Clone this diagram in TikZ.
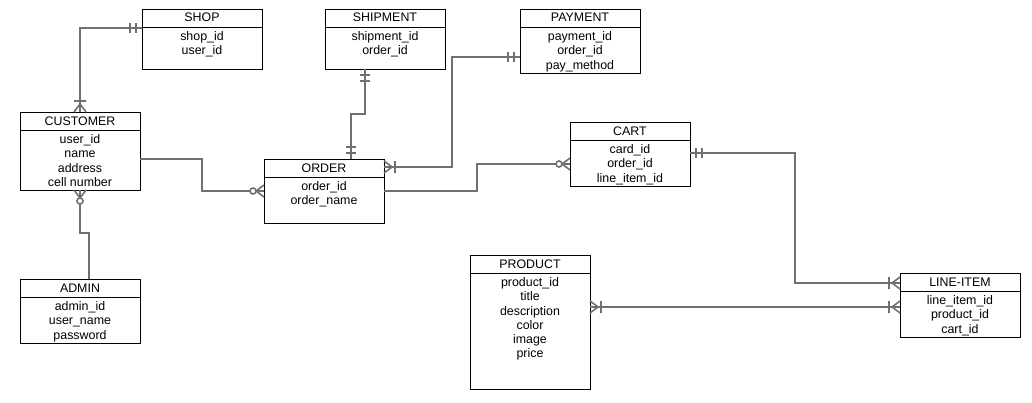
\documentclass[tikz,border=0pt]{standalone}
\usepackage{fontspec}
\setmainfont{Liberation Sans}
\usetikzlibrary{calc}
\newdimen\upx \upx=0.75pt
\definecolor{relgray}{RGB}{112,112,112}
\tikzset{
  ebox/.style={draw=black, line width=0.6pt, rectangle, inner sep=0pt, outer sep=0pt,
    minimum width=120\upx, anchor=north west},
  hline/.style={draw=black, line width=0.6pt},
  etitle/.style={font=\fontsize{9.3}{10.6}\selectfont, inner sep=0pt, anchor=base},
  etext/.style={font=\fontsize{9.3}{10.6}\selectfont, inner sep=0pt, anchor=north, align=center},
  rel/.style={draw=relgray, line width=1.5pt},
  mk/.style={draw=relgray, line width=1.2pt},
  mand/.pic={\draw[mk] (6,-5)--(6,5) (12,-5)--(12,5);},
  onemany/.pic={\draw[mk] (0,-6)--(8,0)--(0,6) (11,-6)--(11,6);},
  zeromany/.pic={\draw[mk] (0,-6)--(8,0)--(0,6); \draw[mk, fill=white] (11,0) circle[radius=3\upx];},
}
\newcommand\entity[6]{%
  \node[ebox, minimum height=#4\upx] (#1) at (#2,#3) {};
  \draw[hline] ($(#1.north west)+(0,18)$) -- ($(#1.north east)+(0,18)$);
  \node[etitle] (#1-t) at ($(#1.north)+(0,13)$) {#5};
  \node[etext] (#1-a) at ($(#1.north)+(0,22.5)$) {#6};
}
\begin{document}
\begin{tikzpicture}[x=0.75pt,y=-0.75pt]
\useasboundingbox[fill=white] (0,0) rectangle (1032,403);

\entity{shop}{142}{9}{60}{SHOP}{shop\_id\\user\_id}
\entity{ship}{325}{9}{60}{SHIPMENT}{shipment\_id\\order\_id}
\entity{pay}{520}{9}{64}{PAYMENT}{payment\_id\\order\_id\\pay\_method}
\entity{cust}{20}{112}{78}{CUSTOMER}{user\_id\\name\\address\\cell number}
\entity{order}{264}{159}{64}{ORDER}{order\_id\\order\_name}
\entity{cart}{570}{122}{64}{CART}{card\_id\\order\_id\\line\_item\_id}
\entity{admin}{20}{279}{64}{ADMIN}{admin\_id\\user\_name\\password}
\entity{prod}{470}{255}{134}{PRODUCT}{product\_id\\title\\description\\color\\image\\price}
\entity{line}{900}{273}{64}{LINE-ITEM}{line\_item\_id\\product\_id\\cart\_id}

% anchor points
\coordinate (shopL) at ($(shop.north west)+(0,19)$);
\coordinate (custR) at ($(cust.north east)+(0,47)$);
\coordinate (ordL)  at ($(order.north west)+(0,32)$);
\coordinate (adminT) at ($(admin.north)+(9,0)$);
\coordinate (shipB) at ($(ship.south)+(-20,0)$);
\coordinate (ordT)  at ($(order.north)+(27,0)$);
\coordinate (payL)  at ($(pay.north west)+(0,48)$);
\coordinate (ordR1) at ($(order.north east)+(0,8)$);
\coordinate (ordR2) at ($(order.north east)+(0,32)$);
\coordinate (cartL) at ($(cart.north west)+(0,42)$);
\coordinate (cartR) at ($(cart.north east)+(0,31)$);
\coordinate (lineL1) at ($(line.north west)+(0,10)$);
\coordinate (lineL2) at ($(line.north west)+(0,34)$);
\coordinate (prodR) at ($(prod.north east)+(0,52)$);

% connectors
\draw[rel] (shopL) -| (cust.north);
\draw[rel] (custR) -- ++(62,0) |- (ordL);
\draw[rel] (cust.south) -- ++(0,43) -| (adminT);
\draw[rel] (shipB) -- ++(0,45) -| (ordT);
\draw[rel] (payL) -- ++(-68,0) |- (ordR1);
\draw[rel] (ordR2) -- ++(93,0) |- (cartL);
\draw[rel] (cartR) -- ++(105,0) |- (lineL1);
\draw[rel] (prodR) -- (lineL2);

% markers
\pic[rotate=180] at (shopL) {mand};
\pic[rotate=90] at (cust.north) {onemany};
\pic[rotate=180] at (ordL) {zeromany};
\pic[rotate=-90] at (cust.south) {zeromany};
\pic[rotate=-90] at (shipB) {mand};
\pic[rotate=90] at (ordT) {mand};
\pic[rotate=180] at (payL) {mand};
\pic at (ordR1) {onemany};
\pic[rotate=180] at (cartL) {zeromany};
\pic at (cartR) {mand};
\pic[rotate=180] at (lineL1) {onemany};
\pic at (prodR) {onemany};
\pic[rotate=180] at (lineL2) {onemany};
\end{tikzpicture}
\end{document}
